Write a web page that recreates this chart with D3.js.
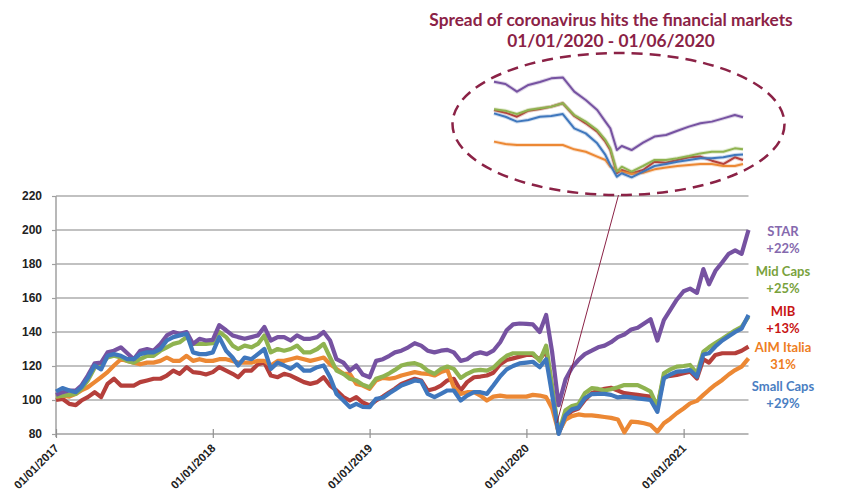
<!DOCTYPE html>
<html>
<head>
<meta charset="utf-8">
<script src="https://cdn.jsdelivr.net/npm/d3@7"></script>
<style>
  body { margin: 0; background: #fff; }
  svg { display: block; font-family: Lato, "Open Sans", sans-serif; }
</style>
</head>
<body>
<div id="chart"></div>
<script>
'use strict';

// semi-monthly samples, 01/01/2017 - 01/06/2021
var dates = [
  '2017-01-01','2017-01-16','2017-02-01','2017-02-16','2017-03-01','2017-03-16','2017-04-01','2017-04-16',
  '2017-05-01','2017-05-16','2017-06-01','2017-06-16','2017-07-01','2017-07-16','2017-08-01','2017-08-16',
  '2017-09-01','2017-09-16','2017-10-01','2017-10-16','2017-11-01','2017-11-16','2017-12-01','2017-12-16',
  '2018-01-01','2018-01-16','2018-02-01','2018-02-16','2018-03-01','2018-03-16','2018-04-01','2018-04-16',
  '2018-05-01','2018-05-16','2018-06-01','2018-06-16','2018-07-01','2018-07-16','2018-08-01','2018-08-16',
  '2018-09-01','2018-09-16','2018-10-01','2018-10-16','2018-11-01','2018-11-16','2018-12-01','2018-12-16',
  '2019-01-01','2019-01-16','2019-02-01','2019-02-16','2019-03-01','2019-03-16','2019-04-01','2019-04-16',
  '2019-05-01','2019-05-16','2019-06-01','2019-06-16','2019-07-01','2019-07-16','2019-08-01','2019-08-16',
  '2019-09-01','2019-09-16','2019-10-01','2019-10-16','2019-11-01','2019-11-16','2019-12-01','2019-12-16',
  '2020-01-01','2020-01-16','2020-02-01','2020-02-16','2020-03-01','2020-03-16','2020-04-01','2020-04-16',
  '2020-05-01','2020-05-16','2020-06-01','2020-06-16','2020-07-01','2020-07-16','2020-08-01','2020-08-16',
  '2020-09-01','2020-09-16','2020-10-01','2020-10-16','2020-11-01','2020-11-16','2020-12-01','2020-12-16',
  '2021-01-01','2021-01-16','2021-02-01','2021-02-16','2021-03-01','2021-03-16','2021-04-01','2021-04-16',
  '2021-05-01','2021-05-16','2021-06-01'
];

var star = [
  103, 104.6, 105.6, 105.6, 108.5, 114.4, 121.6, 122, 128, 129, 131, 127.5, 124, 129, 130, 129, 133, 138, 140, 139, 140, 133, 136, 135,
  135.4, 144, 141, 138, 137, 136, 137, 138, 143, 135, 137, 137, 135, 138, 136, 136, 137, 140, 135, 124, 122, 117.3, 120.3, 115,
  113.4, 123, 124, 126, 128, 129, 131, 133.4, 132, 129, 128, 129, 129.5, 128, 123, 124, 127, 128, 127, 129, 134, 141, 144.5, 145,
  144.8, 144.5, 140, 150, 128, 97, 112, 119, 123.5, 127, 129, 131, 132, 134, 137, 138.5, 141.5, 142.5, 145, 147.5, 135, 147, 153, 159,
  164, 165.5, 163, 177, 168, 176, 181, 186, 188, 186, 200
];
var midCaps = [
  102, 102.6, 103, 103.6, 106.5, 111.5, 119, 121, 125, 126, 125, 123, 122, 124, 126, 126, 129, 131, 133, 134, 137, 133, 133, 133,
  133.4, 140, 137, 132, 130, 132, 131, 133, 138, 128, 130, 129, 130, 132, 128, 128, 130, 133, 125, 117.3, 115.4, 112.5, 111.5, 109,
  107.5, 112.5, 113.8, 115.7, 117.7, 120.3, 121.3, 121.7, 120.3, 117.3, 115.4, 118.3, 119.7, 118.3, 113, 115.4, 117.3, 117.7, 117.3, 119, 123, 126, 127.5, 127.5,
  127.5, 127.5, 123, 132, 108, 80.5, 94, 96.5, 97.5, 104, 107, 106.5, 105.6, 106.3, 107.5, 108.8, 108.8, 108.8, 107, 105, 96, 115.7, 118, 119.6,
  120, 120.6, 115.7, 128.5, 131, 133.5, 136, 138.5, 141, 143, 149
];
var mib = [
  100, 100.7, 97.7, 97, 99.7, 101.7, 104.6, 101.7, 109.5, 112.5, 108.5, 108.5, 108.5, 110.5, 111.5, 112.5, 112.5, 114.4, 117.3, 115.4, 119.3, 116.4, 116, 115,
  116.4, 119.3, 117.3, 115.4, 113.4, 117.3, 117.3, 121, 122, 114.4, 113.4, 115.4, 114.4, 112.5, 110.5, 109.5, 110.5, 113.4, 108.5, 105.6, 101.7, 99.7, 101.7, 98.5,
  96.8, 99.7, 102, 104.6, 106.6, 109.5, 111, 112.5, 111.5, 105.6, 106.6, 108.5, 111.5, 112.5, 105.6, 110.5, 113.4, 113.8, 114.4, 116, 121, 123.5, 124.5, 125.5,
  126.5, 126.5, 124, 129, 105, 80.5, 90, 93.5, 95, 100, 104, 105.5, 106.6, 107.2, 105.5, 104, 103.5, 103, 102.5, 102, 96, 113.7, 114.2, 114.7,
  115.7, 116.7, 112.7, 124, 122, 126.5, 127.5, 127.5, 127.5, 129, 131.4
];
var aimItalia = [
  102, 102.6, 102, 103.6, 105.6, 107.5, 110.5, 113.4, 116.4, 120.3, 124, 123, 122, 121, 122, 122, 123, 125, 123, 123, 126, 123, 124, 123,
  123, 124, 124, 123, 122, 122, 122, 123, 123, 120.3, 123, 123, 124, 125, 124, 123, 124, 125, 121, 118.3, 115.4, 115.4, 109.5, 108.5,
  106.6, 111.5, 113, 112.5, 113, 114.4, 115.4, 116.4, 115.7, 115.4, 114.4, 116.4, 117.7, 107.5, 103.6, 104.6, 104.6, 102.6, 99.7, 102, 102.6, 102, 102, 102,
  102, 103, 102.6, 101.7, 95, 81, 88.5, 90.5, 91.5, 91, 91, 90.5, 90, 89.5, 88.5, 81, 87.3, 87, 86.3, 85.3, 81.4, 86.3, 89, 92.2,
  95, 98, 99.5, 103, 105.9, 109, 111.8, 115, 117.6, 119.6, 124.5
];
var smallCaps = [
  105, 107, 105.6, 104.6, 107.5, 113, 120.3, 118, 126, 127, 126, 124, 124, 127, 128, 128, 130, 135, 137, 138, 139, 128, 127, 127,
  128, 137, 129, 125, 120.3, 125, 124, 127, 130, 118.3, 122, 120.3, 118.3, 121, 117.3, 117.3, 119.3, 120.3, 113.4, 103.6, 99.7, 95.8, 97.7, 96,
  95.8, 100.7, 101.3, 104, 106, 108.5, 110, 111.5, 111, 103.6, 101.7, 103.6, 105.6, 105.6, 99.7, 102.6, 104.6, 104.6, 103.6, 108.5, 114, 118, 120, 121.5,
  122, 122.5, 119.3, 124, 103, 80, 91, 94.5, 95.5, 101, 103.5, 103.6, 103.6, 103, 101.5, 102, 101.5, 101, 100.5, 100, 93, 112.7, 115, 116.7,
  117, 117.6, 113.7, 126.8, 127.5, 131.5, 135, 137.5, 140, 142, 150
];

// zoomed inset, 01/01/2020 - 01/06/2020
var insetDates = [
  '2020-01-01','2020-01-08','2020-01-15','2020-01-22','2020-01-29','2020-02-05','2020-02-12','2020-02-19',
  '2020-02-26','2020-03-04','2020-03-09','2020-03-12','2020-03-16','2020-03-19','2020-03-25','2020-04-01',
  '2020-04-08','2020-04-15','2020-04-22','2020-04-29','2020-05-06','2020-05-13','2020-05-20','2020-05-27','2020-06-01'
];
var insetStar = [145.2, 143.6, 138.1, 142.9, 145, 147.6, 148.3, 138.1, 132.1, 125, 116.7, 111.9, 96.4, 99.3, 96.4, 101.7, 106, 107.1, 110.2, 113.1, 115.5, 116.7, 119, 121.4, 119.8];
var insetMidCaps = [125.5, 124.5, 122.1, 125, 126.2, 127.4, 129.8, 121.4, 116.7, 110.7, 103.6, 97.6, 81, 84.5, 81, 85, 89.3, 89.3, 90.5, 92.1, 94, 95.2, 95.2, 97.6, 96.9];
var insetMib = [125, 123.1, 120.2, 124.5, 125.7, 127.4, 129.8, 120.7, 115.5, 109.5, 102.4, 96.4, 79.8, 82.1, 79.8, 82.1, 88.1, 87.4, 89.3, 91.2, 91.7, 88.8, 86.4, 91.2, 89.3];
var insetAimItalia = [102.4, 100.7, 100, 100, 100, 100, 100, 96.9, 95.2, 91.7, 89.3, 84.5, 82.1, 81, 79.3, 80.2, 82.6, 84, 85, 85.7, 86.4, 86.4, 85, 85, 86.4];
var insetSmallCaps = [122.6, 120.2, 116.7, 117.9, 120.2, 120.7, 122.1, 111.9, 108.3, 101.2, 92.9, 85.7, 77.4, 79.8, 76.9, 81, 85, 86.4, 88.1, 89.3, 90.5, 90.5, 91.2, 92.9, 93.3];

var seriesNames = ['STAR', 'Mid Caps', 'MIB', 'AIM Italia', 'Small Caps'];
var seriesChanges = ['+22%', '+25%', '+13%', '31%', '+29%'];
var yTicks = [80, 100, 120, 140, 160, 180, 200, 220];
var xTicks = ['2017-01-01', '2018-01-01', '2019-01-01', '2020-01-01', '2021-01-01'];
var titleLines = ['Spread of coronavirus hits the financial markets', '01/01/2020 - 01/06/2020'];
var crashPoint = { date: '2020-03-12', value: 86.5 };

var lineColors = ['#7652a1', '#8fb350', '#b53f3b', '#ec8834', '#3f77bd'];
var labelColors = ['#8569ae', '#79a23c', '#c81515', '#ee7d22', '#4a7ec2'];
var MAROON = '#8b2246';

var W = 843, H = 495;
var parse = d3.timeParse('%Y-%m-%d');
var fmt = d3.timeFormat('%d/%m/%Y');

var main = [star, midCaps, mib, aimItalia, smallCaps];
var inset = [insetStar, insetMidCaps, insetMib, insetAimItalia, insetSmallCaps];
var drawOrder = [2, 3, 1, 0, 4];

var svg = d3.select('#chart').append('svg').attr('width', W).attr('height', H);

var x = d3.scaleTime().domain([parse('2017-01-01'), parse('2021-06-01')]).range([56, 748.5]);
var y = d3.scaleLinear().domain([80, 220]).range([434, 196]);

// gridlines
svg.append('g').selectAll('line').data(yTicks.slice(1)).enter().append('line')
  .attr('x1', x.range()[0]).attr('x2', x.range()[1])
  .attr('y1', function(d) { return y(d); }).attr('y2', function(d) { return y(d); })
  .attr('stroke', '#adadad').attr('stroke-width', 1.5);

// y axis
var yAxis = svg.append('g').attr('transform', 'translate(56,0)')
  .call(d3.axisLeft(y).tickValues(yTicks).tickSize(4).tickPadding(10));
yAxis.select('.domain').attr('stroke', '#a0a0a0').attr('stroke-width', 1.5)
  .attr('d', 'M0,' + y(220) + 'V' + (y(80) + 3));
yAxis.selectAll('.tick line').attr('stroke', '#a0a0a0').attr('stroke-width', 1.2);
yAxis.selectAll('.tick text').attr('font-size', 12).attr('font-weight', 700).attr('fill', '#222');

// x axis
var xAxis = svg.append('g').attr('transform', 'translate(0,' + y(80) + ')')
  .call(d3.axisBottom(x).tickValues(xTicks.map(parse)).tickSize(4).tickFormat(fmt));
xAxis.select('.domain').attr('stroke', '#a0a0a0').attr('stroke-width', 1.5)
  .attr('d', 'M' + x.range()[0] + ',0H' + x.range()[1]);
xAxis.selectAll('.tick line').attr('stroke', '#909090').attr('stroke-width', 1.2).attr('y1', -5).attr('y2', 4);
xAxis.selectAll('.tick text')
  .attr('font-size', 11.5).attr('font-weight', 700).attr('fill', '#222')
  .attr('text-anchor', 'end').attr('y', 0).attr('dy', 0)
  .attr('transform', 'translate(3,15) rotate(-45)');

// main series
var line = d3.line()
  .x(function(d) { return x(d.date); })
  .y(function(d) { return y(d.value); });

drawOrder.forEach(function(i) {
  var pts = dates.map(function(d, k) { return { date: parse(d), value: main[i][k] }; });
  svg.append('path').datum(pts)
    .attr('d', line)
    .attr('fill', 'none')
    .attr('stroke', lineColors[i])
    .attr('stroke-width', 4.2)
    .attr('stroke-linejoin', 'round');
});

// legend labels at the right
var legendY = [231, 271, 311, 347, 386];
var legend = svg.append('g').attr('font-weight', 700).attr('font-size', 13).attr('text-anchor', 'middle');
seriesNames.forEach(function(name, i) {
  legend.append('text').attr('x', 783).attr('y', legendY[i]).attr('dy', '0.35em')
    .attr('fill', labelColors[i]).text(name);
  legend.append('text').attr('x', 783).attr('y', legendY[i] + 17).attr('dy', '0.35em')
    .attr('fill', labelColors[i]).text(seriesChanges[i]);
});

// inset with the crash period
var ix = d3.scaleTime().domain([parse('2020-01-01'), parse('2020-06-01')]).range([494, 743]);
var iy = d3.scaleLinear().domain([80, 145]).range([173, 82]);
var iline = d3.line()
  .x(function(d) { return ix(d.date); })
  .y(function(d) { return iy(d.value); });

drawOrder.forEach(function(i) {
  var pts = insetDates.map(function(d, k) { return { date: parse(d), value: inset[i][k] }; });
  svg.append('path').datum(pts).attr('d', iline).attr('fill', 'none')
    .attr('stroke', lineColors[i]).attr('stroke-opacity', 0.25).attr('stroke-width', 4)
    .attr('stroke-linejoin', 'round');
  svg.append('path').datum(pts).attr('d', iline).attr('fill', 'none')
    .attr('stroke', lineColors[i]).attr('stroke-width', 2)
    .attr('stroke-linejoin', 'round');
});

var ell = { cx: (ix.range()[0] + ix.range()[1]) / 2, cy: 124, rx: 166, ry: 71 };
svg.append('ellipse')
  .attr('cx', ell.cx).attr('cy', ell.cy).attr('rx', ell.rx).attr('ry', ell.ry)
  .attr('fill', 'none').attr('stroke', MAROON).attr('stroke-width', 2.5)
  .attr('stroke-dasharray', '11,7');

svg.append('line')
  .attr('x1', ell.cx).attr('y1', ell.cy + ell.ry)
  .attr('x2', x(parse(crashPoint.date))).attr('y2', y(crashPoint.value))
  .attr('stroke', MAROON).attr('stroke-width', 1);

// title
svg.append('g').selectAll('text').data(titleLines).enter().append('text')
  .attr('x', 611).attr('y', function(d, i) { return 26 + i * 21; })
  .attr('text-anchor', 'middle').attr('font-weight', 700).attr('font-size', 17.3)
  .attr('fill', MAROON).text(function(d) { return d; });
</script>
</body>
</html>
